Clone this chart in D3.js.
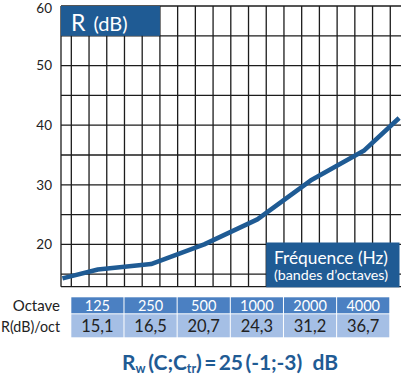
<!DOCTYPE html>
<html><head><meta charset="utf-8">
<script src="https://cdn.jsdelivr.net/npm/d3@7"></script>
<style>body{margin:0;background:#fff;} svg{display:block;font-family:"Lato","Open Sans",sans-serif;}</style>
</head><body>
<svg id="chart" width="401" height="378"></svg>
<script>
// third-octave bands forming the grid columns
const bands = ["80","100","125","160","200","250","315","400","500","630","800","1000","1250","1600","2000","2500","3150","4000","5000","6300"];
// curve
const curveFreqs = ["80","125","250","500","1000","2000","4000","6300"];
const curveValues = [14.3, 15.8, 16.7, 20.0, 24.2, 30.7, 35.7, 41.2];
// axis
const yTicks = [20, 30, 40, 50, 60];
const yGridValues = [15, 20, 25, 30, 35, 40, 45, 50, 55, 60];
// octave table
const octaves = ["125", "250", "500", "1000", "2000", "4000"];
const octaveValues = [15.1, 16.5, 20.7, 24.3, 31.2, 36.7];

const svg = d3.select("#chart");
const plotLeft = 61, plotTop = 6, plotBottom = 286.7, plotRight = 401;

const x = d3.scaleBand().domain(bands).range([53.6, 53.6 + bands.length * 17.72]).padding(0);
const bw = x.bandwidth();
const cx = b => x(b) + bw / 2;
const y = d3.scaleLinear().domain([12.9, 60]).range([plotBottom, plotTop]);

const blue = "#1f5b94";
const gridColor = "#1c1c1c";

svg.append("defs").append("clipPath").attr("id", "plotclip")
  .append("rect").attr("x", plotLeft).attr("y", plotTop - 3)
  .attr("width", plotRight - plotLeft).attr("height", plotBottom - plotTop + 3);

const g = svg.append("g");

// vertical grid lines (band boundaries)
g.selectAll("line.v").data(bands.filter(b => x(b) >= plotLeft + 2))
  .join("line").attr("class", "v")
  .attr("x1", d => x(d)).attr("x2", d => x(d))
  .attr("y1", plotTop).attr("y2", plotBottom)
  .attr("stroke", gridColor).attr("stroke-width", 1.3);

// left border
g.append("line").attr("x1", plotLeft).attr("x2", plotLeft)
  .attr("y1", plotTop).attr("y2", plotBottom)
  .attr("stroke", gridColor).attr("stroke-width", 1.3);

// horizontal grid lines
g.selectAll("line.h").data(yGridValues).join("line").attr("class", "h")
  .attr("x1", plotLeft).attr("x2", plotRight)
  .attr("y1", d => y(d)).attr("y2", d => y(d))
  .attr("stroke", gridColor).attr("stroke-width", 1.3);
// bottom border
g.append("line").attr("x1", plotLeft).attr("x2", plotRight)
  .attr("y1", plotBottom).attr("y2", plotBottom)
  .attr("stroke", gridColor).attr("stroke-width", 1.3);

// y axis labels
const yAxis = d3.axisLeft(y).tickValues(yTicks).tickSize(0).tickPadding(9).tickFormat(d3.format("d"));
const ya = svg.append("g").attr("transform", `translate(${plotLeft},0)`).call(yAxis);
ya.select(".domain").remove();
ya.selectAll("text").attr("font-size", 13.5).attr("fill", "#222").attr("font-family", "Lato, sans-serif")
  .attr("dy", d => d === 60 ? "0.45em" : "0.32em");

// curve
const line = d3.line().x((d, i) => cx(curveFreqs[i])).y(d => y(d));
svg.append("path").datum(curveValues)
  .attr("clip-path", "url(#plotclip)")
  .attr("d", line).attr("fill", "none").attr("stroke", blue)
  .attr("stroke-width", 4.6).attr("stroke-linejoin", "round");

// R (dB) box
svg.append("rect").attr("x", plotLeft).attr("y", plotTop)
  .attr("width", x("250") + bw - plotLeft).attr("height", y(55) - plotTop)
  .attr("fill", blue);
const rt = svg.append("text").attr("x", 71).attr("y", 31).attr("fill", "#fff").attr("font-size", 23);
rt.append("tspan").text("R");
rt.append("tspan").attr("font-size", 20).attr("dx", 8).text("(dB)");

// Fréquence box
const fx0 = x("1250");
svg.append("rect").attr("x", fx0).attr("y", 242.5)
  .attr("width", 399.5 - fx0).attr("height", plotBottom - 242.5 + 0.6)
  .attr("fill", blue);
svg.append("text").attr("x", 274).attr("y", 264).attr("fill", "#fff")
  .attr("font-size", 17.5).attr("textLength", 114).attr("lengthAdjust", "spacingAndGlyphs")
  .text("Fréquence (Hz)");
svg.append("text").attr("x", 274).attr("y", 280).attr("fill", "#fff")
  .attr("font-size", 12.5).attr("textLength", 114).attr("lengthAdjust", "spacingAndGlyphs")
  .text("(bandes d’octaves)");

// octave table
const colStart = o => x(bands[bands.indexOf(o) - 1]);
const colEnd = o => x(bands[bands.indexOf(o) + 1]) + bw;
const hdrTop = 297.3, hdrBot = 313.3, valTop = 314.3, valBot = 337.3;

svg.selectAll("rect.hdr").data(octaves).join("rect").attr("class", "hdr")
  .attr("x", d => colStart(d)).attr("y", hdrTop)
  .attr("width", d => colEnd(d) - colStart(d) - 1).attr("height", hdrBot - hdrTop)
  .attr("fill", "#4b80c2");
svg.selectAll("rect.val").data(octaves).join("rect").attr("class", "val")
  .attr("x", d => colStart(d)).attr("y", valTop)
  .attr("width", d => colEnd(d) - colStart(d) - 1).attr("height", valBot - valTop)
  .attr("fill", "#a5bfe5");

svg.selectAll("text.hdr").data(octaves).join("text").attr("class", "hdr")
  .attr("x", d => (colStart(d) + colEnd(d) - 1) / 2).attr("y", 310.5)
  .attr("text-anchor", "middle").attr("fill", "#fff").attr("font-size", 14.5)
  .text(d => d);
const fmt = v => d3.format(".1f")(v).replace(".", ",");
svg.selectAll("text.val").data(octaveValues).join("text").attr("class", "val")
  .attr("x", (d, i) => (colStart(octaves[i]) + colEnd(octaves[i]) - 1) / 2).attr("y", 332)
  .attr("text-anchor", "middle").attr("fill", "#222").attr("font-size", 16.5)
  .text(fmt);

svg.append("text").attr("x", 60).attr("y", 310.5).attr("text-anchor", "end")
  .attr("fill", "#222").attr("font-size", 15).text("Octave");
svg.append("text").attr("x", 1).attr("y", 331.5)
  .attr("fill", "#222").attr("font-size", 14.5)
  .attr("textLength", 59).attr("lengthAdjust", "spacingAndGlyphs").text("R(dB)/oct");

// formula
const ft = svg.append("text").attr("x", 122).attr("y", 370).attr("fill", blue)
  .attr("font-weight", "bold").attr("font-size", 21)
  .attr("textLength", 216).attr("lengthAdjust", "spacing");
ft.append("tspan").text("R");
ft.append("tspan").attr("font-size", 12.5).attr("dy", 3).text("w");
ft.append("tspan").attr("dy", -3).attr("dx", 3).text("(C;C");
ft.append("tspan").attr("font-size", 12.5).attr("dy", 3).text("tr");
ft.append("tspan").attr("dy", -3).text(")\u2009=\u200925\u2009(-1;-3)\u2002dB");
</script>
</body></html>
